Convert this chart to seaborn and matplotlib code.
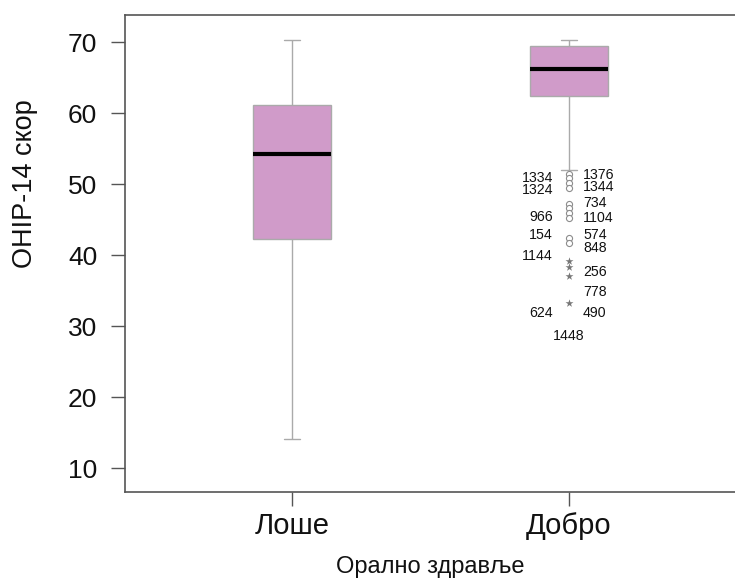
import matplotlib
matplotlib.use("Agg")
import matplotlib.pyplot as plt
import seaborn as sns
import pandas as pd

# ---- data ----
categories = ["Лоше", "Добро"]
# five-number summaries (min whisker, Q1, median, Q3, max whisker)
loshe_values = [14.1, 42.3, 54.2, 61.1, 70.3]
dobro_values = [52.0, 62.4, 66.2, 69.4, 70.3]

# outliers of the "Добро" group
mild_outliers = [51.4, 50.8, 50.1, 49.5, 47.25, 46.6, 45.9, 45.2, 42.4, 41.7]
extreme_outliers = [39.15, 38.3, 37.0, 33.2]

# case-number labels next to the outliers
case_labels = ["1376", "1334", "1344", "1324", "734", "966", "1104", "154",
               "574", "848", "1144", "256", "778", "624", "490", "1448"]
case_label_y = [51.27, 50.9, 49.6, 49.15, 47.3, 45.4, 45.2, 42.8,
                42.8, 41.0, 39.9, 37.65, 34.8, 31.9, 31.9, 28.6]
case_label_side = ["right", "left", "right", "left", "right", "left", "right", "left",
                   "right", "right", "left", "right", "right", "left", "right", "center"]

y_ticks = [10, 20, 30, 40, 50, 60, 70]
x_title = "Орално здравље"
y_title = "OHIP-14 скор"

# ---- build frames ----
df = pd.DataFrame({
    "group": [categories[0]] * len(loshe_values) + [categories[1]] * len(dobro_values),
    "score": loshe_values + dobro_values,
})
df_mild = pd.DataFrame({"group": [categories[1]] * len(mild_outliers), "score": mild_outliers})
df_ext = pd.DataFrame({"group": [categories[1]] * len(extreme_outliers), "score": extreme_outliers})

sns.set_style("white")
plt.rcParams["font.family"] = ["Liberation Sans", "DejaVu Sans"]

fig = plt.figure(figsize=(7.35, 5.79), dpi=100)
ax = fig.add_axes([0.170, 0.150, 0.830, 0.824])

sns.boxplot(data=df, x="group", y="score", order=categories, ax=ax,
            whis=(0, 100), showfliers=False, width=0.28,
            color="#D09BC9", saturation=1, linecolor="#AAAAAA", linewidth=1,
            medianprops=dict(color="black", linewidth=3),
            capwidths=0.058)

sns.stripplot(data=df_mild, x="group", y="score", order=categories, ax=ax,
              jitter=False, marker="o", size=4.4, color="white",
              edgecolor="#8c8c8c", linewidth=0.8, zorder=5)
sns.stripplot(data=df_ext, x="group", y="score", order=categories, ax=ax,
              jitter=False, marker="*", size=6, color="#777777",
              linewidth=0, zorder=5)

pos = categories.index("Добро")
for txt, yv, side in zip(case_labels, case_label_y, case_label_side):
    if side == "left":
        off, ha = -11.5, "right"
    elif side == "right":
        off, ha = 10, "left"
    else:
        off, ha = 0, "center"
    ax.annotate(txt, xy=(pos, yv), xytext=(off, 0), textcoords="offset points",
                ha=ha, va="center", fontsize=10.2, color="#111111")

ax.set_xlim(-0.603, 1.599)
ax.set_ylim(6.62, 73.8)
ax.set_yticks(y_ticks)
ax.set_xlabel(x_title, fontsize=17, color="#111111", labelpad=12)
ax.set_ylabel(y_title, fontsize=19.5, color="#111111")
ax.yaxis.set_label_coords(-0.142, 0.646)
ax.tick_params(axis="both", length=10, width=1, color="#555555",
               labelcolor="#111111", direction="out", left=True, bottom=True)
ax.tick_params(axis="y", pad=10, labelsize=19)
ax.tick_params(axis="x", pad=4, labelsize=21)
for s in ["left", "bottom", "top"]:
    ax.spines[s].set_color("#555555")
    ax.spines[s].set_linewidth(1.2)
ax.spines["right"].set_visible(False)

fig.savefig("out.png", dpi=100)
